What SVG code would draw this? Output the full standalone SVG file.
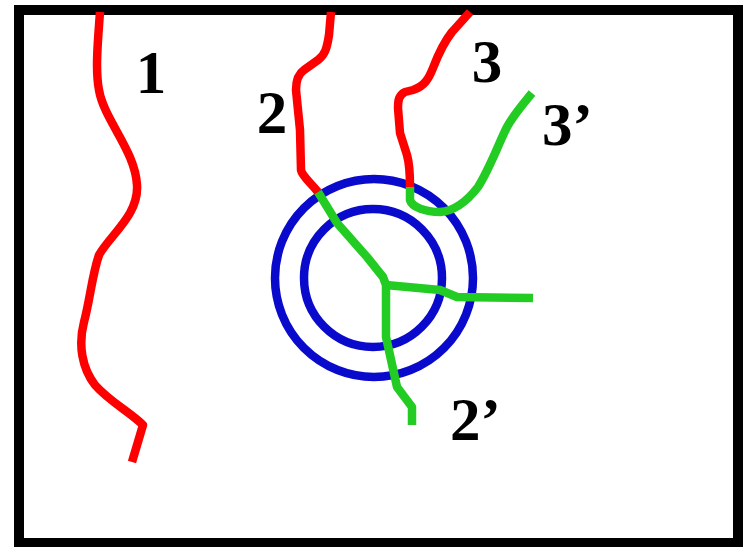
<svg xmlns="http://www.w3.org/2000/svg" width="743" height="547" viewBox="0 0 743 547">
<style>
.red{fill:none;stroke:#f00;stroke-width:8.5;stroke-linejoin:round}
.grn{fill:none;stroke:#2c2;stroke-width:8.5;stroke-linejoin:round}
.blu{fill:none;stroke:#0a0acc;stroke-width:8.5}
.lbl{font-family:"Liberation Serif","Times New Roman",serif;font-weight:bold;font-size:61px;fill:#000}
</style>
<rect x="0" y="0" width="743" height="547" fill="#fff"/>
<rect x="19" y="10" width="719" height="533" fill="none" stroke="#000" stroke-width="10"/>
<g id="circles">
<circle class="blu" cx="374" cy="278" r="99"/>
<circle class="blu" cx="373" cy="278" r="69"/>
</g>
<g id="connectors">
<path id="line1" class="red" d="M100,12 C98,40 95,70 99,90 C104,120 135,150 137,185 C139,215 110,235 99,255 C92,275 90,300 84,322 C78,345 82,368 95,385 C110,402 130,412 143,425 L132,462"/>
<path id="line2" class="red" d="M331,12 L329,35 C327,48 325,55 318,60 L304,70 C298,74 296,80 296,90 L300,130 L301,170 C302,176 310,182 318,192"/>
<path id="line3" class="red" d="M470,12 L452,32 C444,42 438,55 433,68 C429,78 425,86 413,90 L405,92 C399,95 398,100 398,108 L400,133 L407,155 C409,162 410,175 410,187"/>
<polyline id="line2p" class="grn" points="318,192 337,223 367,257 383,277 386,285 386,337 397,387 412,407 412,425"/>
<polyline id="branch" class="grn" points="386,285 440,290 457,297 533,298"/>
<path id="line3p" class="grn" d="M410,187 L410,200 C412,207 425,212 440,212 C455,211 468,200 478,187 C490,168 498,145 507,127 C514,114 524,103 532,93"/>
</g>
<g id="labels">
<text class="lbl" x="151" y="93" text-anchor="middle">1</text>
<text class="lbl" x="272" y="133" text-anchor="middle">2</text>
<text class="lbl" x="487" y="82" text-anchor="middle">3</text>
<text class="lbl" x="542" y="145">3’</text>
<text class="lbl" x="450" y="440">2’</text>
</g>
</svg>
